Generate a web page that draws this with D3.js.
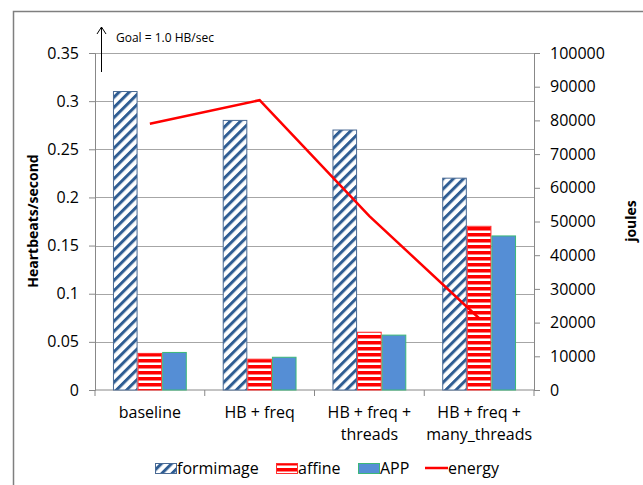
<!DOCTYPE html>
<html>
<head>
<meta charset="utf-8">
<script src="https://cdn.jsdelivr.net/npm/d3@7"></script>
<style>
body { margin: 0; background: #fff; }
text { font-family: "Open Sans", "Liberation Sans", sans-serif; fill: #000; }
</style>
</head>
<body>
<div id="chart"></div>
<script>
var svgWidth = 643;
var svgHeight = 485;
var margin = {top: 53, right: 109, bottom: 95, left: 95};
var chartWidth = svgWidth - margin.left - margin.right;
var chartHeight = svgHeight - margin.top - margin.bottom;

// data
var categories = ['baseline', 'HB + freq', 'HB + freq + threads', 'HB + freq + many_threads'];
var catLines = [['baseline'], ['HB + freq'], ['HB + freq +', 'threads'], ['HB + freq +', 'many_threads']];
var seriesNames = ['formimage', 'affine', 'APP'];
var formimage = [0.31, 0.28, 0.27, 0.22];
var affine = [0.038, 0.032, 0.06, 0.17];
var app = [0.039, 0.034, 0.057, 0.16];
var energy = [79000, 86000, 51600, 21300];
var leftTicks = [0, 0.05, 0.1, 0.15, 0.2, 0.25, 0.3, 0.35];
var rightTicks = [0, 10000, 20000, 30000, 40000, 50000, 60000, 70000, 80000, 90000, 100000];

var seriesValues = [formimage, affine, app];
var fills = ['url(#hatch)', 'url(#stripes)', '#558ed5'];
var strokes = ['#4a6a94', '#ff3030', '#3cb878'];

var svg = d3.select('#chart').append('svg')
.attr('width', svgWidth)
.attr('height', svgHeight);

// patterns
var defs = svg.append('defs');
var hatch = defs.append('pattern')
.attr('id', 'hatch')
.attr('patternUnits', 'userSpaceOnUse')
.attr('width', 7.2)
.attr('height', 7.2)
.attr('patternTransform', 'rotate(45)');
hatch.append('rect').attr('width', 7.2).attr('height', 7.2).attr('fill', '#fff');
hatch.append('rect').attr('width', 3).attr('height', 7.2).attr('fill', '#2f5d93');

var stripes = defs.append('pattern')
.attr('id', 'stripes')
.attr('patternUnits', 'userSpaceOnUse')
.attr('width', 6)
.attr('height', 6);
stripes.append('rect').attr('width', 6).attr('height', 6).attr('fill', '#fff');
stripes.append('rect').attr('width', 6).attr('height', 3.5).attr('fill', '#ff0000');

// outer frame
svg.append('path')
.attr('d', 'M13.5,485 L13.5,11.5 L643,11.5')
.attr('fill', 'none')
.attr('stroke', '#7f7f7f')
.attr('stroke-width', 1.5);

var chartGroup = svg.append('g')
.attr('transform', `translate(${margin.left}, ${margin.top})`);

var x0 = d3.scaleBand()
.domain(categories)
.range([0, chartWidth])
.padding(0);

var x1 = d3.scaleBand()
.domain(seriesNames)
.range([0, x0.bandwidth()])
.paddingInner(0)
.paddingOuter(0.73);

var yLeft = d3.scaleLinear().domain([0, 0.35]).range([chartHeight, 0]);
var yRight = d3.scaleLinear().domain([0, 100000]).range([chartHeight, 0]);

// gridlines
chartGroup.append('g')
.selectAll('line')
.data(leftTicks.slice(1))
.enter()
.append('line')
.attr('x1', 0)
.attr('x2', chartWidth)
.attr('y1', d => Math.round(yLeft(d)) + 0.5)
.attr('y2', d => Math.round(yLeft(d)) + 0.5)
.attr('stroke', '#a6a6a6');

// left axis
var leftAxis = chartGroup.append('g')
.call(d3.axisLeft(yLeft).tickValues(leftTicks).tickSize(6).tickPadding(10).tickFormat(d => d3.format('')(d)));
leftAxis.selectAll('text').attr('font-size', '16px').style('font-family', '"Open Sans", sans-serif');

// right axis
var rightAxis = chartGroup.append('g')
.attr('transform', `translate(${chartWidth}, 0)`)
.call(d3.axisRight(yRight).tickValues(rightTicks).tickSize(6).tickPadding(10).tickFormat(d3.format('d')));
rightAxis.selectAll('text').attr('font-size', '16px').style('font-family', '"Open Sans", sans-serif');

// bottom axis
var bottomAxis = chartGroup.append('g')
.attr('transform', `translate(0, ${chartHeight})`);
bottomAxis.append('line')
.attr('x1', 0).attr('x2', chartWidth)
.attr('stroke', '#888');
bottomAxis.selectAll('.tk')
.data(categories.concat(['end']))
.enter()
.append('line')
.attr('class', 'tk')
.attr('x1', (d, i) => i < categories.length ? x0(d) : chartWidth)
.attr('x2', (d, i) => i < categories.length ? x0(d) : chartWidth)
.attr('y1', 0)
.attr('y2', 6)
.attr('stroke', '#888');

[leftAxis, rightAxis].forEach(function(a) {
	a.selectAll('.domain').attr('stroke', '#888');
	a.selectAll('.tick line').attr('stroke', '#888');
});

// bars
var groups = chartGroup.append('g')
.selectAll('g')
.data(categories)
.enter()
.append('g')
.attr('transform', d => `translate(${x0(d)}, 0)`);

groups.selectAll('rect')
.data((d, i) => seriesNames.map((s, j) => ({series: s, j: j, value: seriesValues[j][i]})))
.enter()
.append('rect')
.attr('x', d => x1(d.series) + 0.5)
.attr('y', d => yLeft(d.value))
.attr('width', x1.bandwidth() - 1)
.attr('height', d => chartHeight - yLeft(d.value))
.attr('fill', d => fills[d.j])
.attr('stroke', d => strokes[d.j])
.attr('stroke-width', 1);

// energy line
var line = d3.line()
.x((d, i) => x0(categories[i]) + x0.bandwidth() / 2)
.y(d => yRight(d));

chartGroup.append('path')
.datum(energy)
.attr('d', line)
.attr('fill', 'none')
.attr('stroke', '#ff0000')
.attr('stroke-width', 2.5);

// category labels
var catLabels = chartGroup.append('g')
.selectAll('text')
.data(categories)
.enter()
.append('text')
.attr('text-anchor', 'middle')
.attr('font-size', '16px')
.attr('x', d => x0(d) + x0.bandwidth() / 2)
.attr('y', chartHeight + 28);
catLabels.selectAll('tspan')
.data((d, i) => catLines[i])
.enter()
.append('tspan')
.attr('x', function() { return d3.select(this.parentNode).attr('x'); })
.attr('dy', (d, i) => i === 0 ? 0 : 22)
.text(d => d);

// axis titles
svg.append('text')
.attr('transform', 'translate(38, 221) rotate(-90)')
.attr('text-anchor', 'middle')
.attr('font-size', '14px')
.attr('font-weight', 'bold')
.text('Heartbeats/second');

svg.append('text')
.attr('transform', 'translate(636, 221) rotate(-90)')
.attr('text-anchor', 'middle')
.attr('font-size', '14px')
.attr('font-weight', 'bold')
.text('joules');

// goal annotation
svg.append('line')
.attr('x1', 101.5).attr('x2', 101.5)
.attr('y1', 72).attr('y2', 27)
.attr('stroke', '#000').attr('stroke-width', 1);
svg.append('path')
.attr('d', 'M97,34 L101.5,27 L106,34')
.attr('fill', 'none')
.attr('stroke', '#000').attr('stroke-width', 1);
svg.append('text')
.attr('x', 116)
.attr('y', 42)
.attr('font-size', '12px')
.text('Goal = 1.0 HB/sec');

// legend
var legendItems = [
	{name: 'formimage', x: 155, type: 'rect', fill: fills[0], stroke: strokes[0]},
	{name: 'affine', x: 276, type: 'rect', fill: fills[1], stroke: strokes[1]},
	{name: 'APP', x: 358, type: 'rect', fill: fills[2], stroke: strokes[2]},
	{name: 'energy', x: 425, type: 'line'}
];
var legend = svg.append('g')
.selectAll('g')
.data(legendItems)
.enter()
.append('g')
.attr('transform', d => `translate(${d.x}, 468)`);
legend.filter(d => d.type === 'rect')
.append('rect')
.attr('x', 0.5).attr('y', -4.5)
.attr('width', 21).attr('height', 10)
.attr('fill', d => d.fill)
.attr('stroke', d => d.stroke);
legend.filter(d => d.type === 'line')
.append('line')
.attr('x1', 0).attr('x2', 23)
.attr('y1', 0).attr('y2', 0)
.attr('stroke', '#ff0000')
.attr('stroke-width', 2.5);
legend.append('text')
.attr('x', d => d.type === 'line' ? 23 : 22)
.attr('y', 6)
.attr('font-size', '16px')
.text(d => d.name);
</script>
</body>
</html>
